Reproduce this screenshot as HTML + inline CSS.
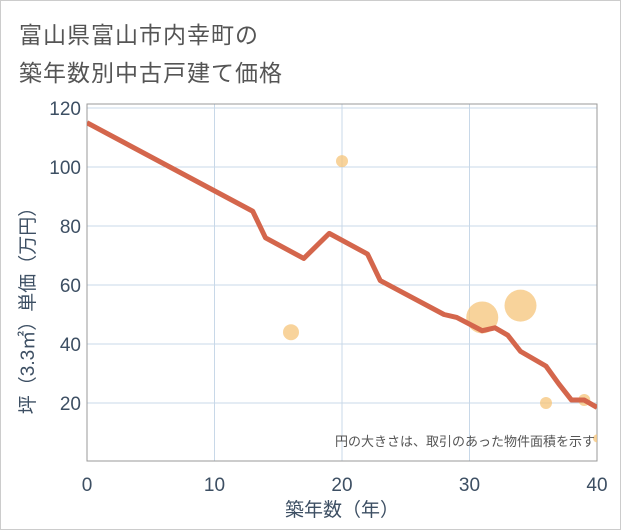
<!DOCTYPE html>
<html><head><meta charset="utf-8"><style>
body{margin:0;background:#fff;font-family:"Liberation Sans","Noto Sans CJK JP",sans-serif;}
#card{position:absolute;left:0;top:0;width:619px;height:528px;border:1px solid #ccc;background:#fff;}
.title{position:absolute;left:18px;font-size:23px;color:#555;letter-spacing:1px;}
</style></head><body>
<div id="card">
<div class="title" style="top:15px">富山県富山市内幸町の</div>
<div class="title" style="top:53px">築年数別中古戸建て価格</div>
<svg id="chart" width="621" height="530" style="position:absolute;left:0;top:0"></svg>
</div>
<script>
const xTicks=[0,10,20,30,40];
const yTicks=[20,40,60,80,100,120];
const lineX=[0,13,14,17,19,22,23,28,29,31,32,33,34,36,37,38,39,40];
const lineY=[115,85,76,69,77.5,70.5,61.5,50,49,44.5,45.5,43,37.5,32.5,26.5,21,21,18.5];
const bubX=[20,16,31,34,36,39,40];
const bubY=[102,44,49,53,20,21,8];
const bubR=[6,8,16,16,6,6,4];
const NS='http://www.w3.org/2000/svg';
const svg=document.getElementById('chart');
const L=86,R=596,T=103,B=460;
const sx=v=>L+(v-0)/40*(R-L);
const sy=v=>402-(v-20)*2.95;
function mk(tag,attrs,parent){const e=document.createElementNS(NS,tag);for(const k in attrs)e.setAttribute(k,attrs[k]);(parent||svg).appendChild(e);return e;}
const clip=mk('clipPath',{id:'pc'});mk('rect',{x:L,y:T,width:R-L,height:B-T},clip);
xTicks.forEach(t=>{const l=mk('line',{x1:sx(t),x2:sx(t),y1:T,y2:B,stroke:'#c8d8e8','stroke-width':1});

const tx=mk('text',{x:sx(t),y:490,'text-anchor':'middle','font-size':19,fill:'#3d4f63'});tx.textContent=t;
});
yTicks.forEach(t=>{const l=mk('line',{x1:L,x2:R,y1:sy(t),y2:sy(t),stroke:'#c8d8e8','stroke-width':1});

const tx=mk('text',{x:80,y:sy(t)+7,'text-anchor':'end','font-size':19,fill:'#3d4f63'});tx.textContent=t;
});
const fr=mk('rect',{x:L,y:T,width:R-L,height:B-T,fill:'none',stroke:'#999','stroke-width':1});

const g=mk('g',{'clip-path':'url(#pc)'});
bubX.forEach((x,i)=>{const c=mk('circle',{cx:sx(x),cy:sy(bubY[i]),r:bubR[i],fill:'#f5c47a','fill-opacity':0.75},g);
});
const p=mk('polyline',{points:lineX.map((x,i)=>sx(x)+','+sy(lineY[i])).join(' '),fill:'none',stroke:'#d4664c','stroke-width':5,'stroke-linejoin':'round'},g);

const note=mk('text',{x:594,y:445,'text-anchor':'end','font-size':13,fill:'#555'});note.textContent='円の大きさは、取引のあった物件面積を示す';

const xt=mk('text',{x:341,y:515,'text-anchor':'middle','font-size':19,fill:'#3d4f63'});xt.textContent='築年数（年）';

const yt=mk('text',{x:0,y:0,'text-anchor':'middle','font-size':19,fill:'#3d4f63',transform:'translate(33,305) rotate(-90)'});yt.textContent='坪（3.3㎡）単価（万円）';

</script>
</body></html>
